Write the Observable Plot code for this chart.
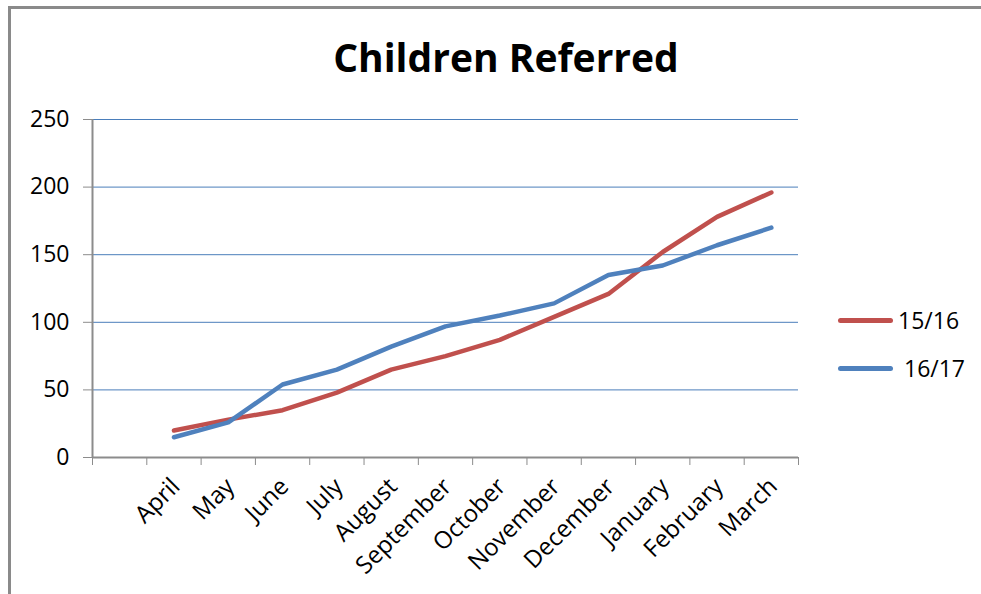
<!DOCTYPE html>
<html><head><meta charset="utf-8">
<script src="https://cdn.jsdelivr.net/npm/d3@7"></script>
<script src="https://cdn.jsdelivr.net/npm/@observablehq/plot@0.6"></script>
<style>
body{margin:0;background:#fff;}
#wrap{position:relative;width:981px;height:594px;overflow:hidden;font-family:"Open Sans",sans-serif;background:#fff;}
#frame{position:absolute;left:8px;top:6px;width:1000px;height:620px;border-left:3px solid #8a8a8a;border-top:3px solid #8a8a8a;box-sizing:border-box;pointer-events:none;}
#chart{position:absolute;left:0;top:0;}
#title{position:absolute;left:0;width:1012px;top:37px;line-height:39px;text-align:center;font-weight:700;font-size:39px;color:#000;}
.leg{position:absolute;left:838px;height:30px;display:flex;align-items:center;font-size:23px;color:#000;white-space:pre;}
.sw{width:55px;height:5px;border-radius:3px;margin-right:5px;}
</style>
</head><body>
<div id="wrap">
  <div id="chart"></div>
  <div id="frame"></div>
  <div id="title">Children Referred</div>
  <div id="legend"></div>
</div>
<script>
const months = ["April","May","June","July","August","September","October","November","December","January","February","March"];
const series = ["15/16","16/17"];
const values1516 = [20,28,35,48,65,75,87,104,121,152,178,196];
const values1617 = [15,26,54,65,82,97,105,114,135,142,157,170];
const yTicks = [0,50,100,150,200,250];
const colors = ["#C0504D","#4F81BD"];

const data = [];
months.forEach((m,i)=>{
  data.push({pos:i+1.5, month:m, value:values1516[i], series:series[0]});
});
months.forEach((m,i)=>{
  data.push({pos:i+1.5, month:m, value:values1617[i], series:series[1]});
});
const boundaries = d3.range(0, months.length + 2);
const centers = months.map((m,i)=>i+1.5);

const chart = Plot.plot({
  width: 981,
  height: 594,
  marginLeft: 92,
  marginRight: 183,
  marginTop: 119,
  marginBottom: 137,
  style: {fontFamily: "'Open Sans', sans-serif", background: "transparent"},
  x: {type: "linear", domain: [0, months.length + 1]},
  y: {domain: [0, 250]},
  color: {domain: series, range: colors},
  marks: [
    Plot.gridY(yTicks.filter(d=>d>0), {stroke:"#4A7EBB", strokeOpacity:1, strokeWidth:1}),
    Plot.axisY(yTicks, {tickSize:9, tickPadding:14, stroke:"#8c8c8c", fill:"#000", fontSize:23, label:null}),
    Plot.axisX(boundaries, {tickSize:8, tickFormat:()=>"", stroke:"#8c8c8c", label:null}),
    Plot.axisX(centers, {tickSize:0, tickPadding:25, tickRotate:-45, dx:2, fontSize:24, fill:"#000", label:null,
      tickFormat: d => months[Math.round(d - 1.5)]}),
    Plot.ruleX([0], {stroke:"#8c8c8c", strokeWidth:2}),
    Plot.ruleY([0], {stroke:"#8c8c8c", strokeWidth:2}),
    Plot.line(data, {x:"pos", y:"value", z:"series", stroke:"series", strokeWidth:4.5, strokeLinejoin:"round", strokeLinecap:"round"})
  ]
});
document.getElementById("chart").appendChild(chart);

const leg = document.getElementById("legend");
const legTops = [305, 353];
series.forEach((s,i)=>{
  const row = document.createElement("div");
  row.className = "leg";
  row.style.top = legTops[i] + "px";
  const sw = document.createElement("span");
  sw.className = "sw";
  sw.style.background = colors[i];
  const t = document.createElement("span");
  t.textContent = (i === 1 ? " " : "") + s;
  row.appendChild(sw); row.appendChild(t);
  leg.appendChild(row);
});
</script>
</body></html>
